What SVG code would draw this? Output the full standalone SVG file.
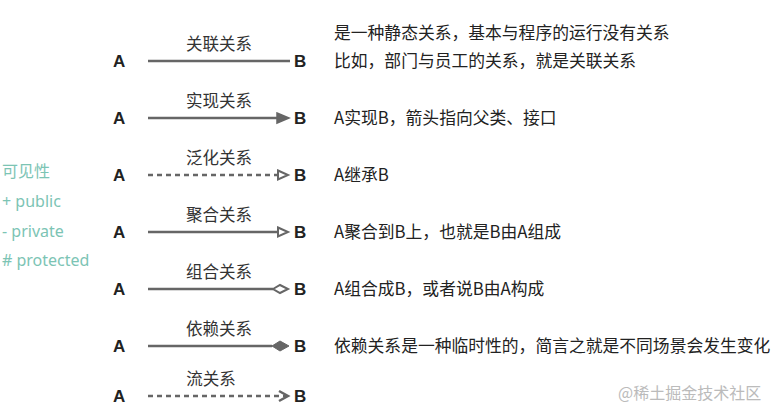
<svg xmlns="http://www.w3.org/2000/svg" width="779" height="416" viewBox="0 0 779 416">
<style>
.t{font-family:"Noto Sans CJK SC","Noto Sans",sans-serif;font-size:16.8px;fill:#222}
.ab{font-family:"Liberation Sans",Arial,sans-serif;font-size:17px;font-weight:bold;fill:#222}
.lbl{font-family:"Noto Sans CJK SC",sans-serif;font-size:16.5px;fill:#333;text-anchor:middle}
.v{font-family:"Noto Sans","Noto Sans CJK SC",sans-serif;font-size:16px;fill:#7cc4b4}
.ln{stroke:#666;stroke-width:2.5;fill:none}
.d{stroke-dasharray:5 4}
</style>
<rect width="779" height="416" fill="#fff"/>
<g id="visibility">
<text class="v" x="2" y="177">可见性</text>
<text class="v" x="2" y="207"> + public</text>
<text class="v" x="2" y="237">- private</text>
<text class="v" x="2" y="266"># protected</text>
</g>
<g id="nodes">
<g id="r1"><text class="ab" x="113" y="67">A</text><text class="ab" x="294" y="67">B</text><text class="lbl" x="219" y="50">关联关系</text></g>
<g id="r2"><text class="ab" x="113" y="124">A</text><text class="ab" x="294" y="124">B</text><text class="lbl" x="219" y="107">实现关系</text></g>
<g id="r3"><text class="ab" x="113" y="181">A</text><text class="ab" x="294" y="181">B</text><text class="lbl" x="219" y="164">泛化关系</text></g>
<g id="r4"><text class="ab" x="113" y="238">A</text><text class="ab" x="294" y="238">B</text><text class="lbl" x="219" y="221">聚合关系</text></g>
<g id="r5"><text class="ab" x="113" y="295">A</text><text class="ab" x="294" y="295">B</text><text class="lbl" x="219" y="278">组合关系</text></g>
<g id="r6"><text class="ab" x="113" y="352">A</text><text class="ab" x="294" y="352">B</text><text class="lbl" x="219" y="335">依赖关系</text></g>
<g id="r7"><text class="ab" x="113" y="402">A</text><text class="ab" x="294" y="402">B</text><text class="lbl" x="211" y="385">流关系</text></g>
</g>
<g id="connectors">
<line class="ln" x1="148" y1="61" x2="290" y2="61"/>
<line class="ln" x1="148" y1="118" x2="280" y2="118"/><polygon points="277,113 289,118 277,123" fill="#666" stroke="#666" stroke-width="1.5"/>
<line class="ln d" x1="148" y1="175" x2="277" y2="175"/><polygon points="278,170.5 288,175 278,179.5" fill="#fff" stroke="#666" stroke-width="2"/>
<line class="ln" x1="148" y1="232" x2="277" y2="232"/><polygon points="278,227.5 288,232 278,236.5" fill="#fff" stroke="#666" stroke-width="2"/>
<line class="ln" x1="148" y1="289" x2="273" y2="289"/><polygon points="273,289 280,285 288,289 280,293" fill="#fff" stroke="#666" stroke-width="2"/>
<line class="ln" x1="148" y1="346" x2="272" y2="346"/><polygon points="272,346 280,341 289,346 280,351" fill="#666" stroke="#666" stroke-width="1"/>
<line class="ln d" x1="148" y1="396" x2="286" y2="396"/><polyline points="279,391 288,396 279,401" class="ln" stroke-width="2"/>
</g>
<g id="notes">
<text class="t" x="334" y="39">是一种静态关系，基本与程序的运行没有关系</text>
<text class="t" x="334" y="67">比如，部门与员工的关系，就是关联关系</text>
<text class="t" x="334" y="124">A实现B，箭头指向父类、接口</text>
<text class="t" x="334" y="181">A继承B</text>
<text class="t" x="334" y="238">A聚合到B上，也就是B由A组成</text>
<text class="t" x="334" y="295">A组合成B，或者说B由A构成</text>
<text class="t" x="334" y="352">依赖关系是一种临时性的，简言之就是不同场景会发生变化</text>
</g>
<text x="618" y="399" font-family="Noto Sans CJK SC,sans-serif" font-size="16" fill="#bbb">@稀土掘金技术社区</text>
</svg>
